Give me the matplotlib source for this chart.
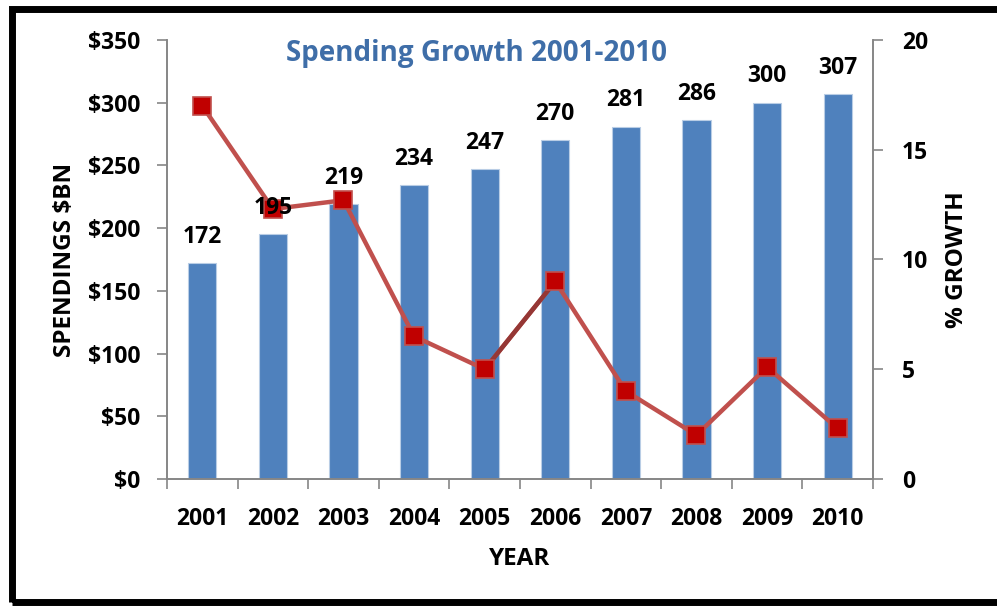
import matplotlib.pyplot as plt
from matplotlib.patches import Rectangle

years = ["2001", "2002", "2003", "2004", "2005", "2006", "2007", "2008", "2009", "2010"]
spending = [172, 195, 219, 234, 247, 270, 281, 286, 300, 307]
growth = [17.0, 12.3, 12.7, 6.5, 5.0, 9.0, 4.0, 2.0, 5.1, 2.3]
left_ticks = [0, 50, 100, 150, 200, 250, 300, 350]
right_ticks = [0, 5, 10, 15, 20]

plt.rcParams["font.family"] = ["Open Sans", "DejaVu Sans"]
plt.rcParams["font.weight"] = "bold"

BAR = "#4F81BD"
LINE = "#C0504D"
GRID = "#868686"
FS = 16.5
LFS = 17.5

fig = plt.figure(figsize=(9.97, 6.06), dpi=100)
ax = fig.add_axes([0.1675, 0.2096, 0.7081, 0.7244])
x = list(range(len(years)))

ax.bar(x, spending, width=0.4, color=BAR, edgecolor="#B9CDE5", linewidth=0.8, zorder=2)

ax.set_xlim(-0.5, len(years) - 0.5)
ax.set_ylim(0, 350)
ax.set_yticks(left_ticks)
ax.set_yticklabels([f"${t}" for t in left_ticks], fontsize=FS, fontweight="bold")
ax.set_xticks(x)
ax.set_xticklabels(years, fontsize=FS, fontweight="bold")
ax.tick_params(axis="x", length=0, pad=20)
ax.set_xticks([i - 0.5 for i in range(len(years) + 1)], minor=True)
ax.tick_params(axis="x", which="minor", length=7, color=GRID, width=1.2)
ax.tick_params(axis="y", length=7, color=GRID, width=1.2, pad=12)
ax.spines["top"].set_visible(False)
for s in ["left", "bottom", "right"]:
    ax.spines[s].set_color(GRID)
    ax.spines[s].set_linewidth(1.2)
ax.set_xlabel("YEAR", fontsize=LFS, fontweight="bold", labelpad=12)
ax.set_ylabel("SPENDINGS $BN", fontsize=LFS, fontweight="bold", labelpad=8)

ax2 = ax.twinx()
ax2.set_ylim(0, 20)
ax2.set_yticks(right_ticks)
ax2.set_yticklabels([str(t) for t in right_ticks], fontsize=FS, fontweight="bold")
ax2.tick_params(axis="y", length=7, color=GRID, width=1.2, pad=14)
ax2.spines["top"].set_visible(False)
for s in ["left", "bottom", "right"]:
    ax2.spines[s].set_color(GRID)
    ax2.spines[s].set_linewidth(1.2)
ax2.set_ylabel("% GROWTH", fontsize=LFS, fontweight="bold", labelpad=12)

ax2.plot(x, growth, color=LINE, linewidth=3.2, zorder=3)
# the 2005-2006 segment is drawn darker
ax2.plot(x[4:6], growth[4:6], color="#953735", linewidth=3.2, zorder=3)
ax2.plot(x, growth, linestyle="none", marker="s", markersize=13,
         markerfacecolor="#C00000", markeredgecolor=LINE, markeredgewidth=1.2, zorder=4)

# value labels above the bars, drawn on top of the growth line
for xi, v in zip(x, spending):
    ax2.annotate(str(v), (xi, v), xycoords=ax.transData, xytext=(0, 19),
                 textcoords="offset points", ha="center", va="center",
                 fontsize=FS, fontweight="bold", zorder=5)

fig.text(0.478, 0.911, "Spending Growth 2001-2010", ha="center", va="center",
         fontsize=20, fontweight="bold", color="#3F6EA8")

# frame around the chart
fig.patches.append(Rectangle((0.012, 0.007), 1.1, 0.978, transform=fig.transFigure,
                             fill=False, edgecolor="black", linewidth=5, clip_on=False))

fig.savefig("out.png", dpi=100, facecolor="white")
